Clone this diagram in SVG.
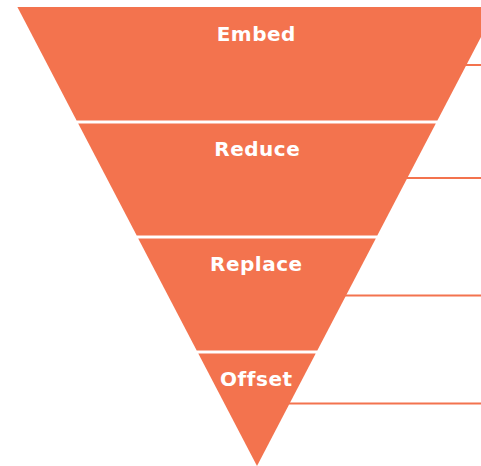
<svg xmlns="http://www.w3.org/2000/svg" width="481" height="466" viewBox="0 0 481 466">
<style>
.band{fill:#F3734E}
.lbl{fill:#FFFFFF;font-family:"DejaVu Sans","Liberation Sans",sans-serif;font-weight:700;font-size:20px;letter-spacing:0.5px;text-anchor:middle}
.conn{stroke:#F3734E;stroke-width:2;fill:none}
</style>
<rect width="481" height="466" fill="#FFFFFF"/>
<g id="embed"><polygon class="band" points="17.4,7 496.6,7 437.4,120.5 76.6,120.5"/><text class="lbl" x="256.3" y="40.5">Embed</text></g>
<g id="reduce"><polygon class="band" points="78.2,123.5 435.8,123.5 377.3,235.5 136.7,235.5"/><text class="lbl" x="257.3" y="156">Reduce</text></g>
<g id="replace"><polygon class="band" points="138.2,238.5 375.8,238.5 317.3,350.5 196.7,350.5"/><text class="lbl" x="256.3" y="271">Replace</text></g>
<g id="offset"><polygon class="band" points="198.3,353.5 315.7,353.5 257,466"/><text class="lbl" x="256.3" y="385.5">Offset</text></g>
<g id="connectors">
<line class="conn" x1="465" y1="65" x2="481" y2="65"/>
<line class="conn" x1="406" y1="178" x2="481" y2="178"/>
<line class="conn" x1="345" y1="295.5" x2="481" y2="295.5"/>
<line class="conn" x1="289" y1="403.5" x2="481" y2="403.5"/>
</g>
</svg>
